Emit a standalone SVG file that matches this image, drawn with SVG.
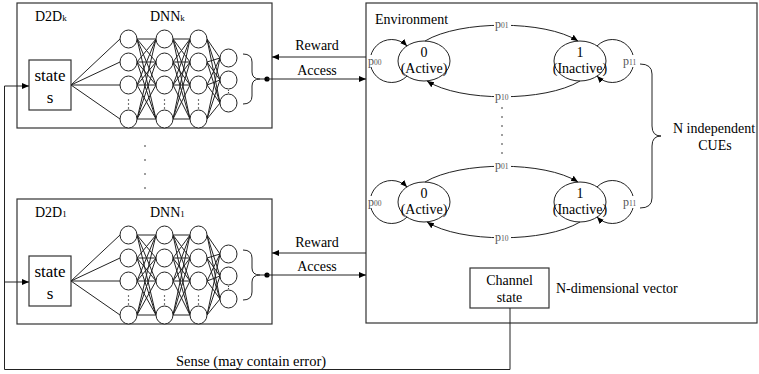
<svg xmlns="http://www.w3.org/2000/svg" width="759" height="374" viewBox="0 0 759 374" font-family="'Liberation Serif', 'Times New Roman', serif">
<style>
text{font-family:"Liberation Serif","Times New Roman",serif;fill:#000}
.t14{font-size:14px}
.t17{font-size:17px}
.ln{fill:none;stroke:#222;stroke-width:1}
.bx{fill:#fff;stroke:#333;stroke-width:1.2}
.nd{fill:#fff;stroke:#222;stroke-width:1}
.pl{font-size:12px;fill:#555}
.sub{font-size:7.5px}
.sb{font-size:9px}
.wb{fill:#fff;stroke:none}
</style>
<defs>
<marker id="ah" markerWidth="8" markerHeight="8" refX="7" refY="4" orient="auto" markerUnits="userSpaceOnUse"><path d="M0,1 L7,4 L0,7 Z" fill="#000"/></marker>
<g id="net">
<rect class="bx" x="29" y="60" width="42" height="50"/>
<text class="t17" x="50" y="81" text-anchor="middle">state</text>
<text class="t17" x="50" y="103" text-anchor="middle">s</text>
<path class="ln" d="M71 85L120 39M71 85L120 62M71 85L120 85M71 85L120 119
M137 39L156 39M137 39L156 62M137 39L156 85M137 39L156 119
M137 62L156 39M137 62L156 62M137 62L156 85M137 62L156 119
M137 85L156 39M137 85L156 62M137 85L156 85M137 85L156 119
M137 119L156 39M137 119L156 62M137 119L156 85M137 119L156 119
M173 39L190 39M173 39L190 62M173 39L190 85M173 39L190 119
M173 62L190 39M173 62L190 62M173 62L190 85M173 62L190 119
M173 85L190 39M173 85L190 62M173 85L190 85M173 85L190 119
M173 119L190 39M173 119L190 62M173 119L190 85M173 119L190 119
M207 39L220 58M207 39L220 80M207 39L220 103
M207 62L220 58M207 62L220 80M207 62L220 103
M207 85L220 58M207 85L220 80M207 85L220 103
M207 119L220 58M207 119L220 80M207 119L220 103"/>
<g class="nd">
<ellipse cx="128.5" cy="39" rx="8.5" ry="9"/><ellipse cx="128.5" cy="62" rx="8.5" ry="9"/><ellipse cx="128.5" cy="85" rx="8.5" ry="9"/><ellipse cx="128.5" cy="119" rx="8.5" ry="9"/>
<ellipse cx="164.5" cy="39" rx="8.5" ry="9"/><ellipse cx="164.5" cy="62" rx="8.5" ry="9"/><ellipse cx="164.5" cy="85" rx="8.5" ry="9"/><ellipse cx="164.5" cy="119" rx="8.5" ry="9"/>
<ellipse cx="198.5" cy="39" rx="8.5" ry="9"/><ellipse cx="198.5" cy="62" rx="8.5" ry="9"/><ellipse cx="198.5" cy="85" rx="8.5" ry="9"/><ellipse cx="198.5" cy="119" rx="8.5" ry="9"/>
<ellipse cx="228.5" cy="58" rx="8.5" ry="9"/><ellipse cx="228.5" cy="80" rx="8.5" ry="9"/><ellipse cx="228.5" cy="103" rx="8.5" ry="9"/>
</g>
<g fill="#222">
<circle cx="128.5" cy="100" r="0.7"/><circle cx="128.5" cy="104" r="0.7"/><circle cx="128.5" cy="108" r="0.7"/>
<circle cx="164.5" cy="100" r="0.7"/><circle cx="164.5" cy="104" r="0.7"/><circle cx="164.5" cy="108" r="0.7"/>
<circle cx="198.5" cy="100" r="0.7"/><circle cx="198.5" cy="104" r="0.7"/><circle cx="198.5" cy="108" r="0.7"/>
<circle cx="228.5" cy="90.5" r="0.6"/><circle cx="228.5" cy="92.5" r="0.6"/>
</g>
<path class="ln" d="M243,54 Q252,54 252,62 L252,72 Q252,79 260,79 Q252,79 252,86 L252,96 Q252,104 243,104 M260,79 L267,79"/>
<circle cx="267" cy="79" r="2.6" fill="#000"/>
</g>
<g id="chain">
<ellipse class="nd" cx="424" cy="0" rx="26" ry="20"/>
<text class="t14" x="424" y="-4" text-anchor="middle">0</text>
<text class="t14" x="424" y="12" text-anchor="middle">(Active)</text>
<ellipse class="nd" cx="580" cy="0" rx="26" ry="20"/>
<text class="t14" x="580" y="-4" text-anchor="middle">1</text>
<text class="t14" x="580" y="12" text-anchor="middle">(Inactive)</text>
<path class="ln" marker-end="url(#ah)" d="M425,-20 C460,-41 545,-41 578,-20"/>
<path class="ln" marker-end="url(#ah)" d="M580,20 C545,41 460,41 427,20"/>
<path class="ln" marker-end="url(#ah)" d="M407,15 A21.5 21.5 0 1 1 407,-15"/>
<path class="ln" marker-end="url(#ah)" d="M597,-15 A21.5 21.5 0 1 1 597,15"/>
<rect class="wb" x="367" y="-6" width="16" height="12"/>
<text class="pl" x="368" y="4">p<tspan class="sub">00</tspan></text>
<rect class="wb" x="622" y="-6" width="17" height="12"/>
<text class="pl" x="623" y="4">p<tspan class="sub">11</tspan></text>
<rect class="wb" x="494" y="-42" width="17" height="12"/>
<text class="pl" x="495" y="-33">p<tspan class="sub">01</tspan></text>
<rect class="wb" x="494" y="30" width="17" height="12"/>
<text class="pl" x="495" y="39">p<tspan class="sub">10</tspan></text>
</g>
</defs>

<g id="d2dk">
<rect class="bx" x="17" y="3" width="255" height="125"/>
<text class="t14" x="35" y="21">D2D<tspan class="sb">k</tspan></text>
<text class="t14" x="150" y="21">DNN<tspan class="sb">k</tspan></text>
<use href="#net"/>
</g>

<g id="d2d1" transform="translate(0,196)">
<rect class="bx" x="17" y="3" width="255" height="125"/>
<text class="t14" x="35" y="21">D2D<tspan class="sb">1</tspan></text>
<text class="t14" x="150" y="21">DNN<tspan class="sb">1</tspan></text>
<use href="#net"/>
</g>

<g id="vdots-left" fill="#222">
<circle cx="145" cy="146" r="0.8"/><circle cx="145" cy="160" r="0.8"/><circle cx="145" cy="174" r="0.8"/><circle cx="145" cy="188" r="0.8"/>
</g>

<g id="environment">
<rect class="bx" x="366" y="3" width="391" height="320"/>
<text class="t14" x="375" y="24">Environment</text>
</g>

<g id="chain-top" transform="translate(0,61)"><use href="#chain"/></g>
<g id="chain-bottom" transform="translate(0,202)"><use href="#chain"/></g>

<g id="vdots-env" fill="#222">
<circle cx="502" cy="108" r="0.8"/><circle cx="502" cy="117" r="0.8"/><circle cx="502" cy="126" r="0.8"/><circle cx="502" cy="135" r="0.8"/><circle cx="502" cy="144" r="0.8"/><circle cx="502" cy="153" r="0.8"/>
</g>

<g id="cues">
<path class="ln" d="M640,64 Q652,64 652,74 L652,126 Q652,136 661,136 Q652,136 652,146 L652,198 Q652,208 640,208"/>
<text class="t14" x="673" y="133">N independent</text>
<text class="t14" x="715" y="150" text-anchor="middle">CUEs</text>
</g>

<g id="channel">
<rect class="bx" x="470" y="268" width="79" height="40"/>
<text class="t14" x="509.5" y="285" text-anchor="middle">Channel</text>
<text class="t14" x="509.5" y="302" text-anchor="middle">state</text>
<text class="t14" x="556" y="293">N-dimensional vector</text>
</g>

<g id="connectors">
<path class="ln" marker-end="url(#ah)" d="M366,57 L272,57"/>
<path class="ln" marker-end="url(#ah)" d="M267,79 L366,79"/>
<path class="ln" marker-end="url(#ah)" d="M366,253 L272,253"/>
<path class="ln" marker-end="url(#ah)" d="M267,275 L366,275"/>
<path class="ln" marker-end="url(#ah)" d="M510,308 L510,369.5 L4.5,369.5 L4.5,86 L29,86"/>
<path class="ln" marker-end="url(#ah)" d="M4.5,282 L29,282"/>
<text class="t14" x="317" y="50" text-anchor="middle">Reward</text>
<text class="t14" x="317" y="75" text-anchor="middle">Access</text>
<text class="t14" x="317" y="247" text-anchor="middle">Reward</text>
<text class="t14" x="317" y="271" text-anchor="middle">Access</text>
<text class="t14" x="251" y="366" text-anchor="middle" style="font-size:14.5px">Sense (may contain error)</text>
</g>
</svg>
